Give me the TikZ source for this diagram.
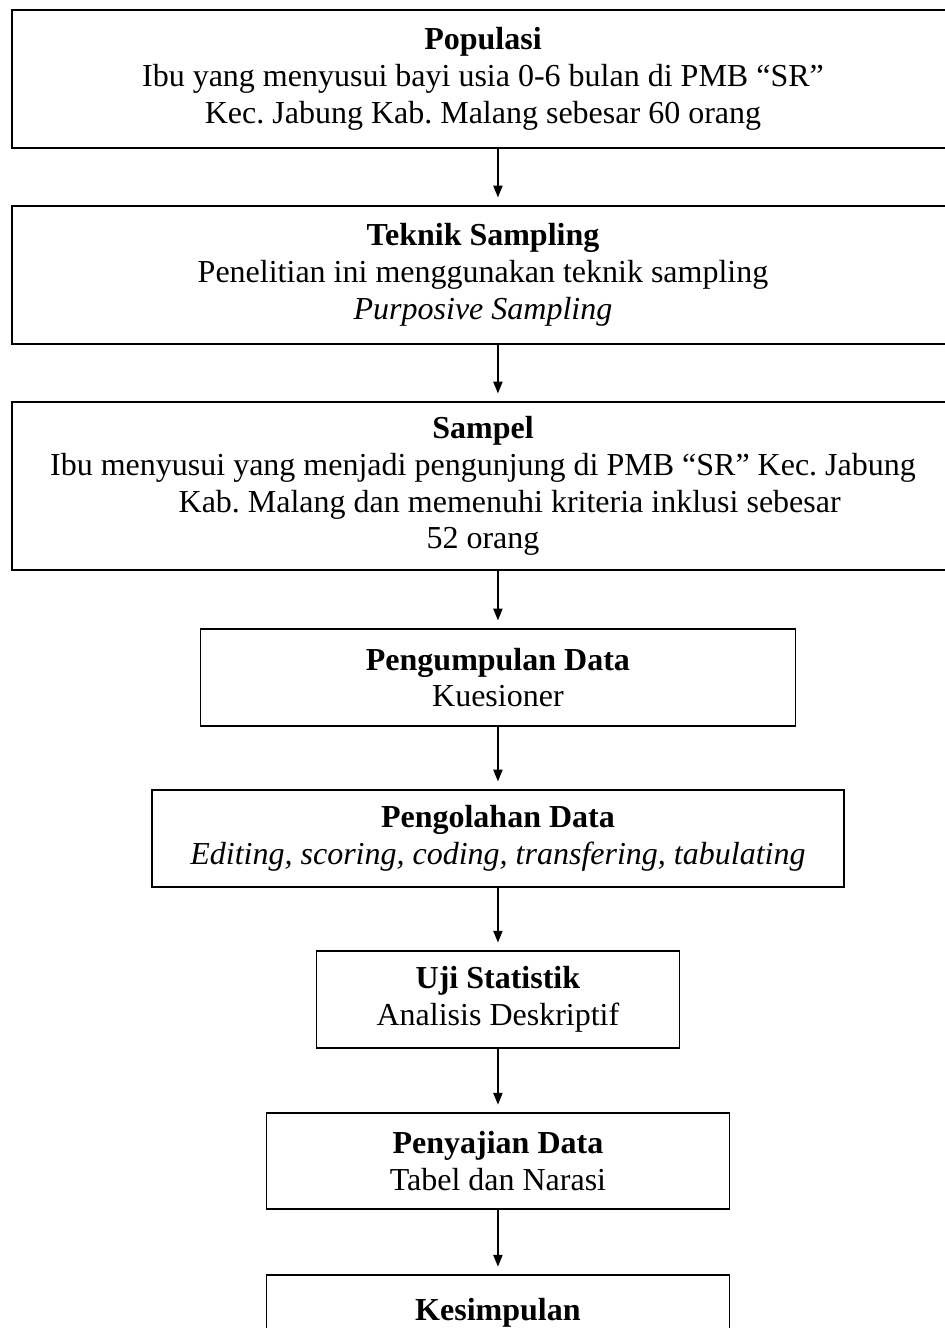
\documentclass[tikz,border=0pt]{standalone}
\usepackage{fontspec}
\setmainfont{Liberation Serif}
\usetikzlibrary{positioning,arrows.meta}
\frenchspacing

\begin{document}
\begin{tikzpicture}[
    every node/.style={draw, rectangle, line width=0.65pt, align=center, text=black,
      inner sep=0pt, outer sep=0pt, font=\fontsize{12pt}{13.8pt}\selectfont},
    widebox/.style={minimum width=353.25pt, minimum height=51.75pt},
    smallbox/.style={minimum height=36.4pt},
    flow/.style={-{Triangle[length=4.4pt,width=3.4pt]}, line width=0.65pt, shorten >=3.2pt},
    ]
  \useasboundingbox (0,0) rectangle (354pt,-498pt);

  \node[widebox, anchor=north west] (populasi) at (4.5pt,-3.75pt)
    {\textbf{Populasi}\\ Ibu yang menyusui bayi usia 0-6 bulan di PMB “SR”\\ Kec. Jabung Kab. Malang sebesar 60 orang};
  \node[widebox, below=21.75pt of populasi] (teknik)
    {\textbf{Teknik Sampling}\\ Penelitian ini menggunakan teknik sampling\\ \textit{Purposive Sampling}};
  \node[widebox, minimum height=63pt, below=21.75pt of teknik] (sampel)
    {\textbf{Sampel}\\ Ibu menyusui yang menjadi pengunjung di PMB “SR” Kec. Jabung\\
     \hspace*{20pt}Kab. Malang dan memenuhi kriteria inklusi sebesar\\ 52 orang};
  \node[smallbox, minimum width=223.1pt, below=22.1pt of sampel, xshift=5.6pt] (pengumpulan)
    {\textbf{Pengumpulan Data}\\ Kuesioner};
  \node[smallbox, minimum width=259.5pt, below=24pt of pengumpulan] (pengolahan)
    {\textbf{Pengolahan Data}\\ \textit{Editing, scoring, coding, transfering, tabulating}};
  \node[smallbox, minimum width=136.1pt, below=24pt of pengolahan] (uji)
    {\textbf{Uji Statistik}\\ Analisis Deskriptif};
  \node[smallbox, minimum width=173.6pt, minimum height=36pt, below=24.4pt of uji] (penyajian)
    {\textbf{Penyajian Data}\\ Tabel dan Narasi};
  \node[minimum width=173.6pt, minimum height=28.5pt, below=24.75pt of penyajian] (kesimpulan)
    {\textbf{Kesimpulan}};

  \foreach \a/\b in {populasi/teknik, teknik/sampel, sampel/pengumpulan, pengumpulan/pengolahan,
      pengolahan/uji, uji/penyajian, penyajian/kesimpulan}
    \draw[flow] (\a.south -| pengumpulan.north) -- (\b.north -| pengumpulan.north);

\end{tikzpicture}
\end{document}
